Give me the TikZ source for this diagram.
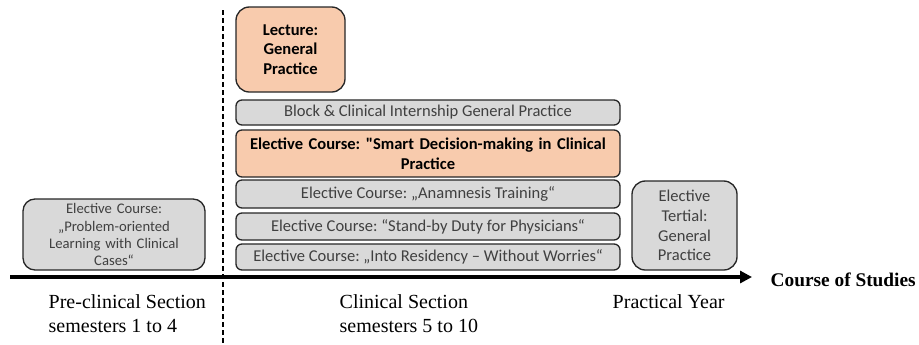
\documentclass[tikz,border=0pt]{standalone}
\usepackage{fontspec}
\setmainfont{Liberation Serif}
\newfontfamily\boxfont{Carlito}
\usetikzlibrary{arrows.meta}
\frenchspacing
\definecolor{courseOrange}{RGB}{248, 203, 173}
\definecolor{courseGray}{RGB}{217, 217, 217}
\definecolor{courseBorder}{RGB}{38, 38, 38}
\definecolor{courseText}{RGB}{64, 64, 64}

\begin{document}
\begin{tikzpicture}[x=0.75pt, y=-0.75pt,
    graybox/.style={draw=courseBorder, line width=1pt, fill=courseGray, rounded corners=4.5pt,
        font=\boxfont\fontsize{12.4}{14.8}\selectfont, text=courseText, align=center, inner sep=1pt},
    orangebox/.style={graybox, fill=courseOrange, text=black, font=\boxfont\fontsize{12.4}{14.8}\selectfont\bfseries},
    sectionlabel/.style={anchor=west, align=left, font=\fontsize{15}{18}\selectfont}]
    \useasboundingbox (0,0) rectangle (919,344);

    % Section divider
    \draw[line width=1.5pt, dash pattern=on 4pt off 2pt] (223,10) -- (223,344);

    % Clinical section
    \node[orangebox, rounded corners=10pt, minimum width=81.75pt, minimum height=63.75pt, text width=70pt] (lecture) at (290.5,49.5) {Lecture:\\General\\Practice};
    \node[graybox, minimum width=288pt, minimum height=18.75pt] (block) at (428,112.5) {Block \& Clinical Internship General Practice};
    \node[orangebox, minimum width=288pt, minimum height=35.25pt, text width=278pt] (smart) at (428,153.5) {Elective Course: "Smart Decision-making in Clinical\\Practice};
    \node[graybox, minimum width=288pt, minimum height=21pt] (anamnesis) at (428,194) {Elective Course: „Anamnesis Training“};
    \node[graybox, minimum width=288pt, minimum height=20.25pt] (standby) at (428,226.5) {Elective Course: “Stand-by Duty for Physicians“};
    \node[graybox, minimum width=288pt, minimum height=19.5pt] (residency) at (428,257) {Elective Course: „Into Residency – Without Worries“};

    % Pre-clinical and practical year
    \node[graybox, rounded corners=9pt, minimum width=136.5pt, minimum height=53.25pt, text width=130pt,
        font=\boxfont\fontsize{11}{12.8}\selectfont] (problem) at (114,234.5) {Elective Course:\\„Problem-oriented\\Learning with Clinical\\Cases“};
    \node[graybox, rounded corners=10pt, minimum width=78.75pt, minimum height=66.75pt, text width=70pt] (tertial) at (684.5,225.5) {Elective\\Tertial:\\General\\Practice};

    % Axis
    \coordinate (start) at (10,277);
    \coordinate (end) at (752,277);
    \draw[line width=3pt, -{Triangle[length=9pt, width=9pt]}] (start) -- (end);
    \node[anchor=west, font=\fontsize{14.5}{18}\selectfont\bfseries] (course) at (766,280) {Course of Studies};

    % Section labels
    \node[sectionlabel] (pre) at (44,314) {Pre-clinical Section\\semesters 1 to 4};
    \node[sectionlabel] (clin) at (335,314) {Clinical Section\\semesters 5 to 10};
    \node[sectionlabel] (pj) at (608,302) {Practical Year};
\end{tikzpicture}
\end{document}
